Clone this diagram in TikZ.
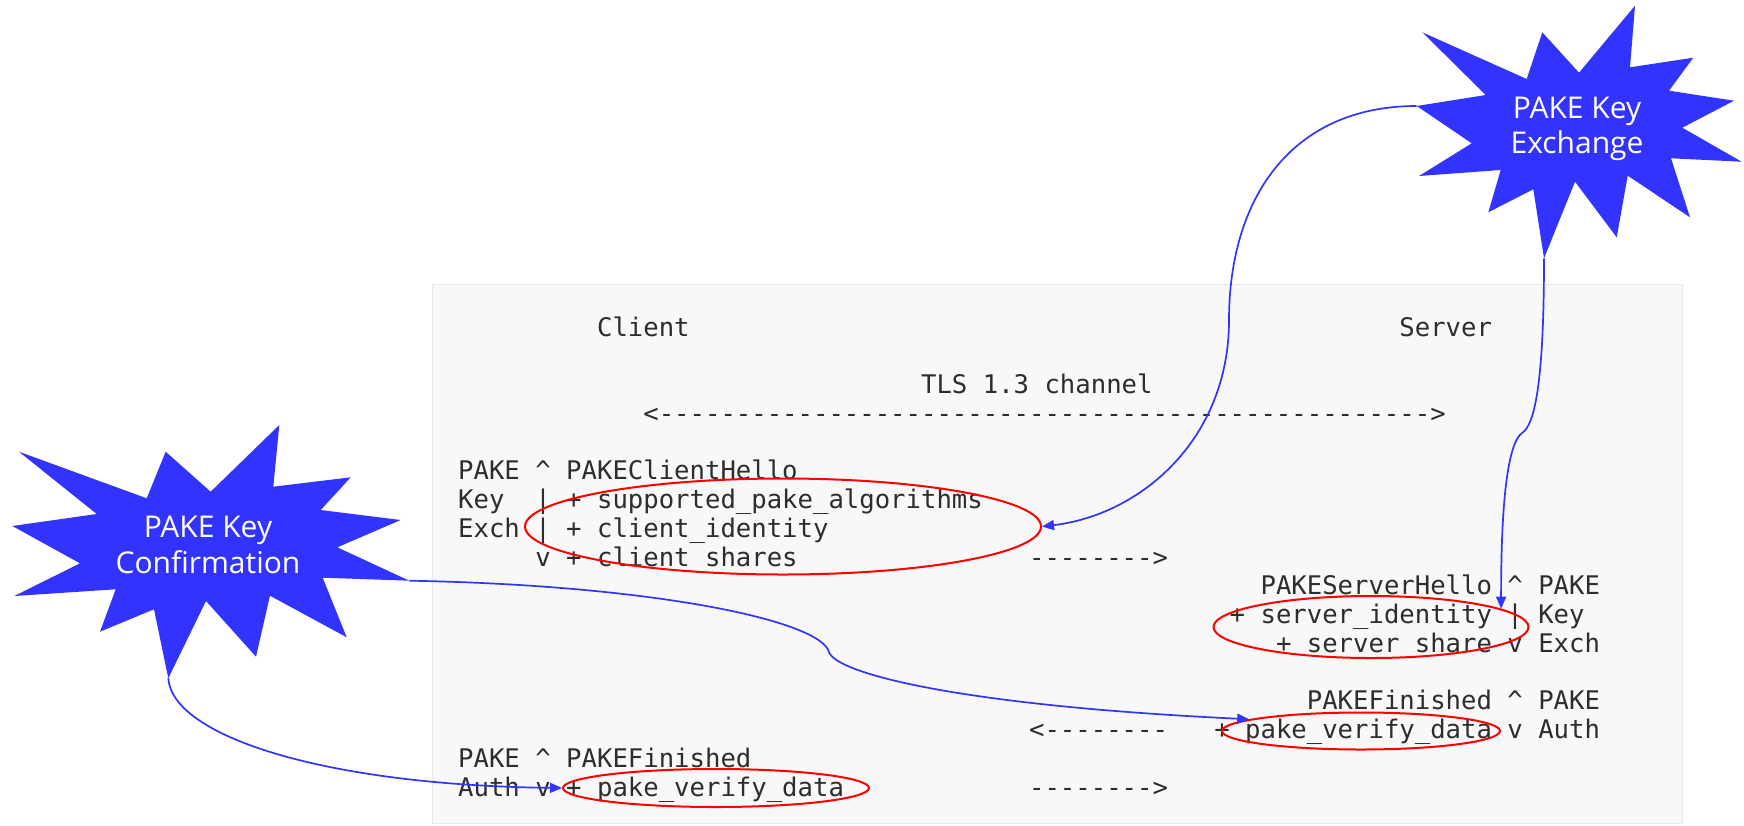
\documentclass[tikz,border=0pt]{standalone}
\usepackage{fontspec}
\setmonofont{DejaVu Sans Mono}
\newfontfamily\starfont{Open Sans}
\usetikzlibrary{arrows.meta,shapes.geometric}
\definecolor{starblue}{RGB}{51,51,255}
\definecolor{boxfill}{RGB}{248,248,248}
\definecolor{boxline}{RGB}{232,232,232}
\definecolor{codetext}{RGB}{45,45,45}
\newcommand\mytxt[4]{\node[code] (#1) at ({458+#2*15.43},{336+#3*28.75}) {#4};}
\begin{document}
\begin{tikzpicture}[x=1pt,y=-1pt,
  code/.style={anchor=base west, inner sep=0pt, text=codetext, font=\ttfamily\fontsize{25.63}{28.75}\selectfont},
  startext/.style={anchor=base, inner sep=0pt, text=white, font=\starfont\fontsize{30}{35}\selectfont},
  ring/.style={ellipse, draw=red, line width=2pt, inner sep=0pt},
  conn/.style={draw=starblue, line width=1.7pt, -{Triangle[length=12pt,width=10pt]}},
  starshape/.style={fill=starblue}
  ]
\useasboundingbox (0,0) rectangle (1744,825);
% code box
\path[fill=boxfill, draw=boxline, line width=1pt] (432,284) rectangle (1682,823);
% code text
\mytxt{client}{9}{0}{Client}
\mytxt{server}{61}{0}{Server}
\mytxt{tls}{30}{2}{TLS 1.3 channel}
\mytxt{chan}{12}{3}{<-------------------------------------------------->}
\mytxt{r5}{0}{5}{PAKE \textasciicircum{} PAKEClientHello}
\mytxt{r6}{0}{6}{Key\ \ | + supported\_pake\_algorithms}
\mytxt{r7}{0}{7}{Exch | + client\_identity}
\mytxt{r8}{5}{8}{v + client\_shares}
\mytxt{r8b}{37}{8}{-------->}
\mytxt{r9}{52}{9}{PAKEServerHello \textasciicircum{} PAKE}
\mytxt{r10}{50}{10}{+ server\_identity | Key}
\mytxt{r11}{53}{11}{+ server\_share v Exch}
\mytxt{r13}{55}{13}{PAKEFinished \textasciicircum{} PAKE}
\mytxt{r14a}{37}{14}{<--------}
\mytxt{r14b}{49}{14}{+ pake\_verify\_data v Auth}
\mytxt{r15}{0}{15}{PAKE \textasciicircum{} PAKEFinished}
\mytxt{r16}{0}{16}{Auth v + pake\_verify\_data}
\mytxt{r16b}{37}{16}{-------->}
% red rings
\node[ring, minimum width=516pt, minimum height=96pt] (e1) at (783,526.5) {};
\node[ring, minimum width=315pt, minimum height=62pt] (e2) at (1371,627) {};
\node[ring, minimum width=278pt, minimum height=37pt] (e3) at (1361,731) {};
\node[ring, minimum width=306pt, minimum height=38pt] (e4) at (716,788) {};
% stars
\path[starshape] (19,451.7) -- (146.7,498.3) -- (165.7,451.7) -- (210.7,491.7) -- (279.3,425) -- (273.3,486.7) -- (350.7,477.3) -- (320.7,510) -- (400.7,520) -- (337.3,547.3) -- (409.3,580.7) -- (322.7,577.7) -- (346.7,637.3) -- (270,595.7) -- (256,656.7) -- (206,601) -- (168.3,678.3) -- (154,609.3) -- (100,631.7) -- (115.7,589.3) -- (14.3,596) -- (80,563.3) -- (12.3,526) -- (96.7,514) -- cycle;
\path[starshape] (1422.3,32.3) -- (1526.7,79) -- (1542.3,32.3) -- (1579,72.7) -- (1635,5.7) -- (1630,67.3) -- (1693.3,57.7) -- (1669,90.7) -- (1734,100.7) -- (1682.3,127.7) -- (1741.7,161.7) -- (1671,158.3) -- (1690,217.3) -- (1627.7,175.7) -- (1616.7,237.3) -- (1575,181.7) -- (1544,258.3) -- (1533.3,189.3) -- (1488.3,212.3) -- (1500.7,170) -- (1419,176) -- (1471.7,143.3) -- (1416.7,106) -- (1485.7,95) -- cycle;
\node[startext] (cfT1) at (208,537.5) {PAKE Key};
\node[startext] (cfT2) at (208,573) {Confirmation};
\node[startext] (exT1) at (1577,118.8) {PAKE Key};
\node[startext] (exT2) at (1577,153.2) {Exchange};
\coordinate (exL) at (1416.7,106);
\coordinate (exB) at (1544,258.3);
\coordinate (cfR) at (409.3,580.7);
\coordinate (cfB) at (168.3,678.3);
% connectors
\draw[conn] (exL) .. controls (1290,106) and (1229,200) .. (1229,320) .. controls (1229,440) and (1140,515) .. (e1.east);
\draw[conn] (exB) .. controls (1544,380) and (1535,425) .. (1522,433) .. controls (1508,443) and (1501,500) .. (e2.8);
\draw[conn] (cfR) .. controls (650,585) and (820,620) .. (829,652) .. controls (835,672) and (950,705) .. (e3.174);
\draw[conn] (cfB) .. controls (172,735) and (320,785) .. (e4.west);
\end{tikzpicture}
\end{document}
